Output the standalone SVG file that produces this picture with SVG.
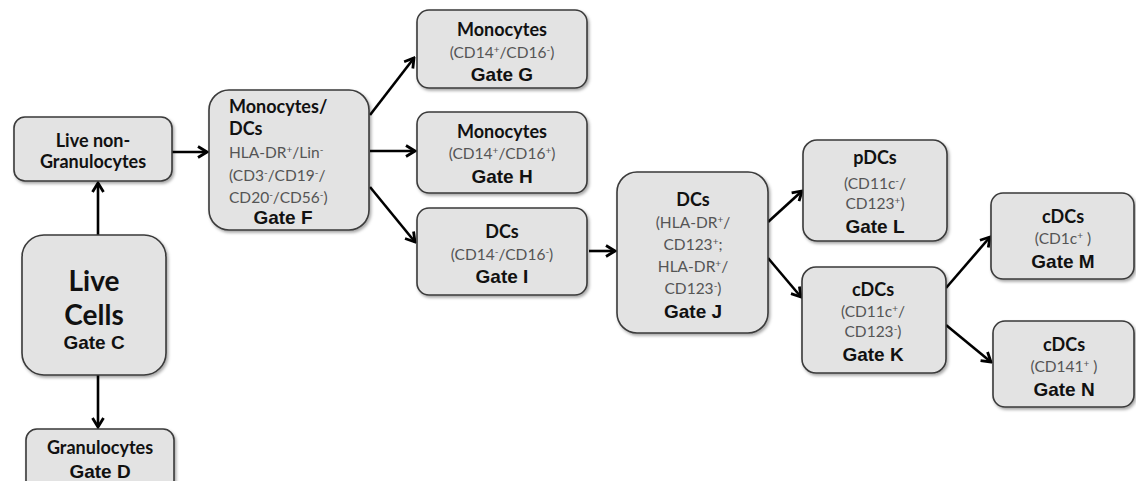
<svg xmlns="http://www.w3.org/2000/svg" width="1136" height="481" viewBox="0 0 1136 481">
<defs>
<filter id="sh" x="-10%" y="-10%" width="125%" height="130%">
<feDropShadow dx="1.5" dy="2" stdDeviation="1.5" flood-color="#000" flood-opacity="0.35"/>
</filter>
<marker id="ah" markerWidth="14" markerHeight="14" viewBox="0 0 14 14" refX="12" refY="7" orient="auto" markerUnits="userSpaceOnUse">
<path d="M3,1.5 L12,7 L3,12.5" fill="none" stroke="#000" stroke-width="2.8" stroke-linejoin="miter"/>
</marker>
<style>
.box{fill:#e3e3e3;stroke:#3a3a3a;stroke-width:1.6;filter:url(#sh)}
.t{font-family:Lato,"Open Sans",sans-serif;font-weight:bold;font-size:18px;fill:#111;text-anchor:middle}
.m{font-family:Lato,"Open Sans",sans-serif;font-size:15.5px;fill:#555;text-anchor:middle}
.g{font-family:"Liberation Sans",Arial,sans-serif;font-weight:bold;font-size:19px;fill:#111;text-anchor:middle}
.big{font-family:Lato,"Open Sans",sans-serif;font-weight:bold;font-size:28px;fill:#111;text-anchor:middle}
.l{text-anchor:start}
.s{font-size:10px}
.c{stroke:#000;stroke-width:2.6;fill:none;marker-end:url(#ah)}
</style>
</defs>
<rect width="1136" height="481" fill="#fff"/>

<g id="connectors">
<line class="c" x1="98" y1="235" x2="98" y2="183"/>
<line class="c" x1="98" y1="375" x2="98" y2="427"/>
<line class="c" x1="172" y1="152" x2="207" y2="152"/>
<line class="c" x1="370" y1="115" x2="414" y2="58"/>
<line class="c" x1="370" y1="151" x2="415" y2="151"/>
<line class="c" x1="370" y1="187" x2="415" y2="242"/>
<line class="c" x1="589" y1="251" x2="615" y2="251"/>
<line class="c" x1="768" y1="222" x2="802" y2="191"/>
<line class="c" x1="768" y1="258" x2="801" y2="297"/>
<line class="c" x1="946" y1="288" x2="990" y2="237"/>
<line class="c" x1="946" y1="325" x2="991" y2="362"/>
</g>

<g id="liveNonGran">
<rect class="box" x="14" y="117" width="158" height="64" rx="11"/>
<text class="t" x="93" y="147">Live non-</text>
<text class="t" x="93" y="168">Granulocytes</text>
</g>

<g id="liveCells">
<rect class="box" x="22" y="235" width="144" height="140" rx="22"/>
<text class="big" x="94" y="291">Live</text>
<text class="big" x="94" y="325">Cells</text>
<text class="g" x="94" y="349">Gate C</text>
</g>

<g id="granulocytes">
<rect class="box" x="26" y="429" width="148" height="70" rx="11"/>
<text class="t" x="100" y="454">Granulocytes</text>
<text class="g" x="100" y="478">Gate D</text>
</g>

<g id="gateF">
<rect class="box" x="209" y="90" width="160" height="140" rx="20"/>
<text class="t l" x="229" y="113">Monocytes/</text>
<text class="t l" x="229" y="135">DCs</text>
<text class="m l" x="229" y="158">HLA-DR<tspan class="s" dy="-5">+</tspan><tspan dy="5">/Lin</tspan><tspan class="s" dy="-5">-</tspan></text>
<text class="m l" x="229" y="181">(CD3<tspan class="s" dy="-5">-</tspan><tspan dy="5">/CD19</tspan><tspan class="s" dy="-5">-</tspan><tspan dy="5">/</tspan></text>
<text class="m l" x="229" y="203">CD20<tspan class="s" dy="-5">-</tspan><tspan dy="5">/CD56</tspan><tspan class="s" dy="-5">-</tspan><tspan dy="5">)</tspan></text>
<text class="g" x="283" y="224">Gate F</text>
</g>

<g id="gateG">
<rect class="box" x="417" y="10" width="170" height="78" rx="12"/>
<text class="t" x="502" y="36">Monocytes</text>
<text class="m" x="502" y="58">(CD14<tspan class="s" dy="-5">+</tspan><tspan dy="5">/CD16</tspan><tspan class="s" dy="-5">-</tspan><tspan dy="5">)</tspan></text>
<text class="g" x="502" y="81">Gate G</text>
</g>

<g id="gateH">
<rect class="box" x="417" y="112" width="170" height="81" rx="12"/>
<text class="t" x="502" y="138">Monocytes</text>
<text class="m" x="502" y="159">(CD14<tspan class="s" dy="-5">+</tspan><tspan dy="5">/CD16</tspan><tspan class="s" dy="-5">+</tspan><tspan dy="5">)</tspan></text>
<text class="g" x="502" y="183">Gate H</text>
</g>

<g id="gateI">
<rect class="box" x="417" y="208" width="170" height="87" rx="12"/>
<text class="t" x="502" y="238">DCs</text>
<text class="m" x="502" y="260">(CD14<tspan class="s" dy="-5">-</tspan><tspan dy="5">/CD16</tspan><tspan class="s" dy="-5">-</tspan><tspan dy="5">)</tspan></text>
<text class="g" x="502" y="283">Gate I</text>
</g>

<g id="gateJ">
<rect class="box" x="617" y="172" width="151" height="161" rx="20"/>
<text class="t" x="693" y="206">DCs</text>
<text class="m" x="693" y="228">(HLA-DR<tspan class="s" dy="-5">+</tspan><tspan dy="5">/</tspan></text>
<text class="m" x="693" y="250">CD123<tspan class="s" dy="-5">+</tspan><tspan dy="5">;</tspan></text>
<text class="m" x="693" y="272">HLA-DR<tspan class="s" dy="-5">+</tspan><tspan dy="5">/</tspan></text>
<text class="m" x="693" y="294">CD123<tspan class="s" dy="-5">-</tspan><tspan dy="5">)</tspan></text>
<text class="g" x="693" y="318">Gate J</text>
</g>

<g id="gateL">
<rect class="box" x="803" y="140" width="144" height="101" rx="14"/>
<text class="t" x="875" y="164">pDCs</text>
<text class="m" x="875" y="189">(CD11c<tspan class="s" dy="-5">-</tspan><tspan dy="5">/</tspan></text>
<text class="m" x="875" y="209">CD123<tspan class="s" dy="-5">+</tspan><tspan dy="5">)</tspan></text>
<text class="g" x="875" y="233">Gate L</text>
</g>

<g id="gateK">
<rect class="box" x="802" y="267" width="144" height="106" rx="14"/>
<text class="t" x="873" y="296">cDCs</text>
<text class="m" x="873" y="317">(CD11c<tspan class="s" dy="-5">+</tspan><tspan dy="5">/</tspan></text>
<text class="m" x="873" y="337">CD123<tspan class="s" dy="-5">-</tspan><tspan dy="5">)</tspan></text>
<text class="g" x="873" y="361">Gate K</text>
</g>

<g id="gateM">
<rect class="box" x="991" y="193" width="143" height="86" rx="12"/>
<text class="t" x="1063" y="223">cDCs</text>
<text class="m" x="1063" y="244">(CD1c<tspan class="s" dy="-5">+</tspan><tspan dy="5"> )</tspan></text>
<text class="g" x="1063" y="268">Gate M</text>
</g>

<g id="gateN">
<rect class="box" x="993" y="321" width="141" height="86" rx="12"/>
<text class="t" x="1064" y="351">cDCs</text>
<text class="m" x="1064" y="372">(CD141<tspan class="s" dy="-5">+</tspan><tspan dy="5"> )</tspan></text>
<text class="g" x="1064" y="396">Gate N</text>
</g>
</svg>
